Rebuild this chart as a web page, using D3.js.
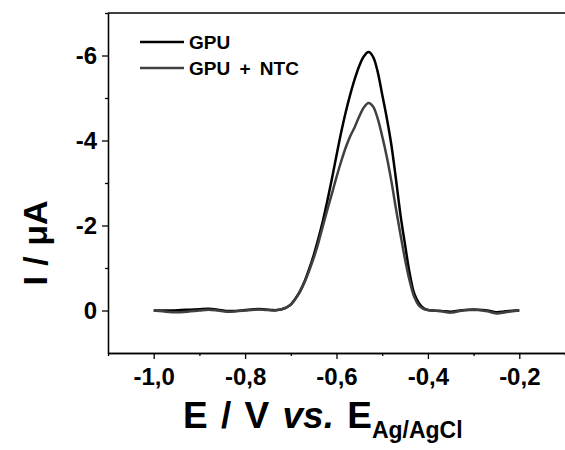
<!DOCTYPE html>
<html><head><meta charset="utf-8">
<script src="https://cdn.jsdelivr.net/npm/d3@7"></script>
<style>
body{margin:0;background:#fff}
svg{display:block}
text{font-family:Arial,"Liberation Sans",sans-serif;font-weight:bold;fill:#000}
</style>
</head><body>
<svg id="c" width="565" height="450"></svg>
<script>
// Potential (V vs Ag/AgCl)
const potentials = [-1.00,-0.98,-0.96,-0.94,-0.92,-0.90,-0.88,-0.86,-0.84,-0.82,-0.80,-0.78,-0.76,-0.74,-0.73,
  -0.72,-0.71,-0.70,-0.69,-0.68,-0.67,-0.66,-0.65,-0.64,-0.63,-0.62,-0.61,-0.60,-0.59,-0.58,-0.57,-0.56,-0.55,
  -0.54,-0.53,-0.52,-0.51,-0.50,-0.49,-0.48,-0.47,-0.46,-0.45,-0.44,-0.43,-0.42,-0.41,-0.40,
  -0.39,-0.37,-0.35,-0.33,-0.31,-0.29,-0.27,-0.25,-0.23,-0.21,-0.20];
// Current (µA)
const gpu = [0,0,0,-0.01,-0.02,-0.03,-0.04,-0.02,0.01,0.01,-0.01,-0.03,-0.03,-0.01,-0.01,
  -0.03,-0.07,-0.14,-0.28,-0.45,-0.68,-0.97,-1.30,-1.68,-2.10,-2.58,-3.10,-3.65,-4.18,-4.66,-5.08,-5.45,-5.76,
  -5.98,-6.08,-5.97,-5.62,-5.08,-4.53,-3.90,-3.10,-2.25,-1.55,-0.88,-0.40,-0.18,-0.06,-0.01,
  0,0.01,0.03,0,-0.02,-0.02,0,0.04,0.02,0,0];
const gpuNtc = [0,0.02,0.04,0.04,0.02,0,-0.02,0,0.03,0.02,0,-0.02,-0.02,0,-0.01,
  -0.03,-0.07,-0.14,-0.27,-0.44,-0.66,-0.93,-1.23,-1.58,-1.98,-2.37,-2.75,-3.14,-3.50,-3.83,-4.10,-4.32,-4.57,
  -4.78,-4.88,-4.80,-4.52,-4.10,-3.62,-3.05,-2.40,-1.79,-1.20,-0.70,-0.32,-0.12,-0.04,-0.01,
  0,0.02,0.05,0.01,-0.01,-0.01,0.02,0.07,0.04,0.01,0];
const seriesNames = ["GPU","GPU + NTC"];
const seriesColors = ["#000000","#404040"];
const xTicks = [-1.0,-0.8,-0.6,-0.4,-0.2];
const xTickLabels = ["-1,0","-0,8","-0,6","-0,4","-0,2"];
const xMinor = [-1.1,-0.9,-0.7,-0.5,-0.3,-0.1];
const yTicks = [-6,-4,-2,0];
const yTickLabels = ["-6","-4","-2","0"];
const yMinor = [-7,-5,-3,-1];

const svg = d3.select("#c");
const L = 108, R = 565, T = 13, B = 353;
const x = d3.scaleLinear().domain([-1.1,-0.1]).range([L,R]);
const y = d3.scaleLinear().domain([1,-7]).range([B,T]);

svg.append("line").attr("x1",L).attr("x2",R+5).attr("y1",T).attr("y2",T)
  .attr("stroke","#000").attr("stroke-width",1.3);

function styleAxis(g){
  g.attr("font-size",null).attr("font-family",null);
  g.selectAll("path,line").attr("stroke","#000").attr("stroke-width",1.3);
  g.selectAll("text").style("font-size","24px").style("font-weight","bold").attr("fill","#000");
}
svg.append("g").attr("transform",`translate(0,${B})`)
  .call(d3.axisBottom(x).tickValues(xMinor).tickSize(3).tickSizeOuter(0).tickFormat(""))
  .call(styleAxis);
svg.append("g").attr("transform",`translate(${L},0)`)
  .call(d3.axisLeft(y).tickValues(yMinor).tickSize(3).tickSizeOuter(0).tickFormat(""))
  .call(styleAxis);
svg.append("g").attr("transform",`translate(0,${B})`)
  .call(d3.axisBottom(x).tickValues(xTicks).tickSize(6).tickSizeOuter(0).tickPadding(9)
    .tickFormat((d,i)=>xTickLabels[i]))
  .call(styleAxis);
svg.append("g").attr("transform",`translate(${L},0)`)
  .call(d3.axisLeft(y).tickValues(yTicks).tickSize(6).tickSizeOuter(0).tickPadding(5)
    .tickFormat((d,i)=>yTickLabels[i]))
  .call(styleAxis);

const line = d3.line().x(d=>x(d[0])).y(d=>y(d[1])).curve(d3.curveCatmullRom.alpha(0.5));
[gpu,gpuNtc].forEach((s,i)=>{
  svg.append("path").datum(potentials.map((p,j)=>[p,s[j]]))
    .attr("d",line).attr("fill","none").attr("stroke",seriesColors[i]).attr("stroke-width",2.5)
    .attr("stroke-linejoin","round");
});

seriesNames.forEach((n,i)=>{
  const ly = 42 + i*26;
  svg.append("line").attr("x1",140).attr("x2",184).attr("y1",ly).attr("y2",ly)
    .attr("stroke",seriesColors[i]).attr("stroke-width",2.5);
  svg.append("text").attr("x",189).attr("y",ly+7).style("font-size","19px")
    .style("word-spacing","4px").text(n);
});

svg.append("text").attr("transform","translate(47,243) rotate(-90)")
  .attr("text-anchor","middle").style("font-size","34px").style("word-spacing","1px").text("I / \u03BCA");
const xt = svg.append("text").attr("x",183).attr("y",428).attr("text-anchor","start")
  .style("font-size","37px").style("word-spacing","3px");
xt.append("tspan").text("E / V ");
xt.append("tspan").attr("font-style","italic").text("vs.");
xt.append("tspan").text(" E");
xt.append("tspan").style("font-size","23px").attr("dy",10).style("word-spacing","0px").text("Ag/AgCl");
</script>
</body></html>
